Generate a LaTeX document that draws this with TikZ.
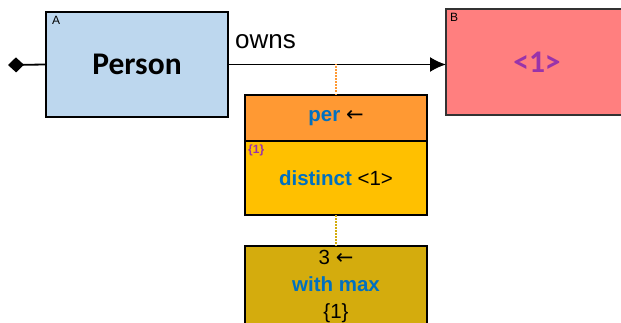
\documentclass[tikz,border=0pt]{standalone}
\usepackage{fontspec}
\setmainfont{Liberation Sans}
\newfontfamily\calfont{Carlito}
\newfontfamily\arrowfont{DejaVu Sans}
\usetikzlibrary{arrows.meta,positioning}
\definecolor{rolblue}{RGB}{189,215,238}
\definecolor{rolred}{RGB}{255,127,127}
\definecolor{rolorange}{RGB}{255,153,51}
\definecolor{rolyellow}{RGB}{255,192,0}
\definecolor{roldark}{RGB}{212,172,13}
\definecolor{kwblue}{RGB}{0,112,192}
\definecolor{refpurple}{RGB}{153,51,170}
\newcommand{\larr}{{\arrowfont\fontsize{21}{24}\selectfont ←}}

\begin{document}
\begin{tikzpicture}[x=1pt,y=1pt,>=Latex,
    box/.style={draw,line width=1.6pt,minimum width=182pt,inner sep=0pt,outer sep=0pt,align=center},
    tag/.style={font=\fontsize{12}{14}\selectfont,inner sep=0pt,anchor=north west},
    big/.style={font=\calfont\bfseries\fontsize{31.5}{36}\selectfont},
    mid/.style={font=\fontsize{20.5}{27}\selectfont},
    hint/.style={line width=1.2pt,dash pattern=on 1.5pt off 1.5pt}]
  \useasboundingbox (0,0) rectangle (621,322);
  \clip (0,0) rectangle (621,322);
  % roles and object types
  \node[box,fill=rolblue,minimum height=105pt,big] (person) at (137,257.5) {Person};
  \node[box,fill=rolred,draw=black!80,minimum height=106pt,big,text=refpurple] (target) at (537,260) {<1>};
  \node[box,fill=rolorange,minimum height=46pt,mid] (per) at (336,204) {\textcolor{kwblue}{\bfseries per} \larr};
  \node[box,fill=rolyellow,minimum height=74pt,mid,below=0pt of per] (distinct) {\textcolor{kwblue}{\bfseries distinct} <1>};
  \node[box,fill=roldark,minimum height=80pt,mid,below=31pt of distinct] (withmax) {3 \larr\\\textcolor{kwblue}{\bfseries with max}\\\{1\}};
  % corner tags
  \node[tag] (personTag) at ([shift={(6,-4)}]person.north west) {A};
  \node[tag] (targetTag) at ([shift={(4,-4)}]target.north west) {B};
  \node[tag,text=refpurple,font=\bfseries\fontsize{12}{14}\selectfont] (distinctTag) at ([shift={(3,-4)}]distinct.north west) {\{1\}};
  % connectors
  \coordinate (origin) at (8,257);
  \draw[line width=1.8pt,{Diamond[length=16pt,width=15pt]}-] (origin) -- (person.west);
  \draw[line width=1.8pt,-{Latex[length=16pt,width=15pt]}] (person.east) -- (person.east -| target.west);
  \node[font=\fontsize{26}{30}\selectfont,inner sep=0pt,anchor=base west] (owns) at ([shift={(7,16)}]person.east) {owns};
  \draw[hint,rolorange] (per.north) -- (per.north |- person.east);
  \draw[hint,roldark] (distinct.south) -- (withmax.north);
\end{tikzpicture}
\end{document}
